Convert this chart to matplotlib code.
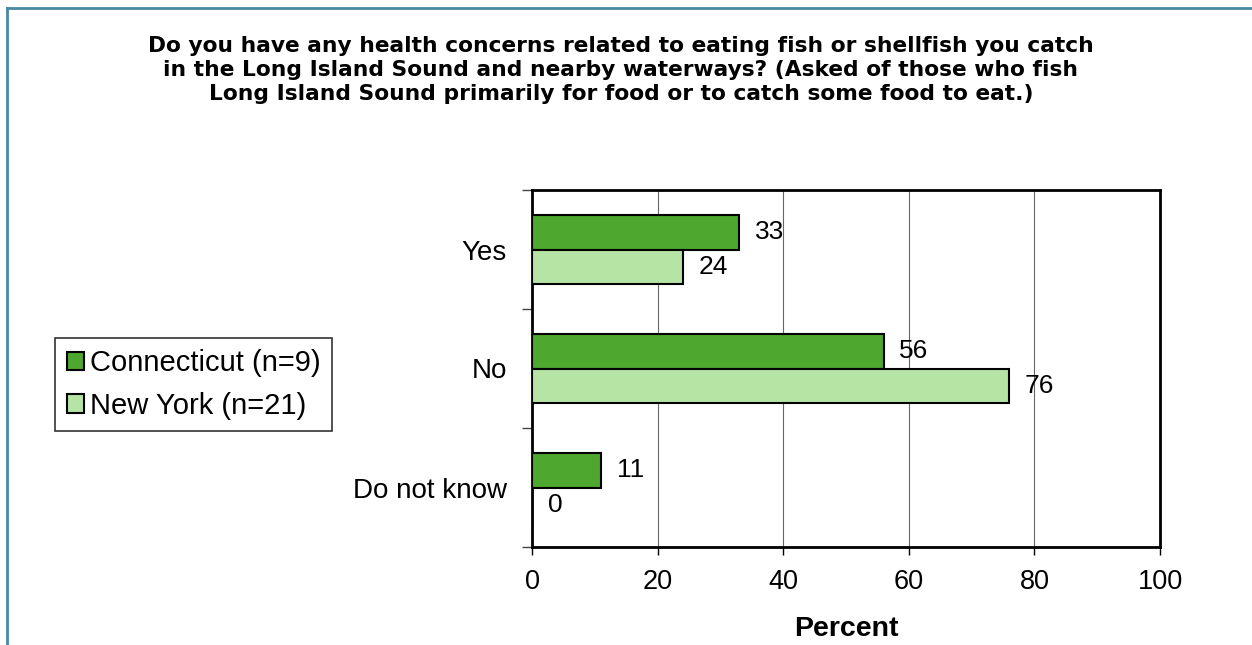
import matplotlib
matplotlib.use("Agg")
import matplotlib.pyplot as plt
from matplotlib.patches import Patch
import numpy as np

plt.rcParams['font.family'] = ['Liberation Sans', 'DejaVu Sans']

categories = ["Yes", "No", "Do not know"]
series_names = ["Connecticut (n=9)", "New York (n=21)"]
ct_values = [33, 56, 11]
ny_values = [24, 76, 0]
x_ticks = [0, 20, 40, 60, 80, 100]
title = ("Do you have any health concerns related to eating fish or shellfish you catch\n"
         "in the Long Island Sound and nearby waterways? (Asked of those who fish\n"
         "Long Island Sound primarily for food or to catch some food to eat.)")

ct_color = "#4ea72e"
ny_color = "#b5e4a5"

fig = plt.figure(figsize=(12.52, 6.45), dpi=100)
ax = fig.add_axes([532/1252, 1-547/645, (1160-532)/1252, (547-190)/645])

y = np.arange(len(categories))
h = 0.29
ax.barh(y - h/2, ct_values, height=h, color=ct_color, edgecolor="black", linewidth=1.5, zorder=3)
ax.barh(y + h/2, ny_values, height=h, color=ny_color, edgecolor="black", linewidth=1.5, zorder=3)

for i in range(len(categories)):
    ax.text(ct_values[i] + 2.5, y[i] - h/2, str(ct_values[i]), va="center", ha="left", fontsize=19, zorder=4)
    ax.text(ny_values[i] + 2.5, y[i] + h/2, str(ny_values[i]), va="center", ha="left", fontsize=19, zorder=4)

ax.set_xlim(0, 100)
ax.set_ylim(2.5, -0.5)
ax.set_xticks(x_ticks)
ax.set_xticklabels([str(t) for t in x_ticks], fontsize=19.5)
ax.set_yticks([-0.5, 0.5, 1.5, 2.5])
ax.set_yticklabels([])
ax.set_yticks(y, minor=True)
ax.set_yticklabels(categories, minor=True, fontsize=20)
ax.tick_params(axis="y", which="minor", length=0, pad=18)
ax.tick_params(axis="y", which="major", length=7, width=1, color="#444444")
ax.tick_params(axis="x", length=6, width=1, pad=10)
ax.grid(axis="x", color="#666666", linewidth=0.8, zorder=0)
for s in ax.spines.values():
    s.set_linewidth(2)
    s.set_color("black")

ax.set_xlabel("Percent", fontsize=20.5, fontweight="bold", labelpad=15)

fig.text(0.496, 0.892, title, ha="center", va="center", fontsize=15.7, fontweight="bold",
         linespacing=1.25, family="DejaVu Sans")

handles = [Patch(facecolor=ct_color, edgecolor="black", linewidth=1.5),
           Patch(facecolor=ny_color, edgecolor="black", linewidth=1.5)]
leg = fig.legend(handles, series_names, loc="center", bbox_to_anchor=(193.5/1252, 1-384.5/645),
                 fontsize=21, frameon=True, fancybox=False, edgecolor="black",
                 handlelength=0.6, handleheight=0.6, handletextpad=0.2, borderpad=0.38,
                 borderaxespad=0, labelspacing=0.5)
leg.get_frame().set_linewidth(1.2)

# outer border
border_color = "#4a88a3"
fig.add_artist(plt.Line2D([7/1252, 7/1252], [0, 1-8/645], transform=fig.transFigure, color=border_color, linewidth=2))
fig.add_artist(plt.Line2D([7/1252, 1], [1-8/645, 1-8/645], transform=fig.transFigure, color=border_color, linewidth=2))

fig.savefig("out.png", dpi=100)
